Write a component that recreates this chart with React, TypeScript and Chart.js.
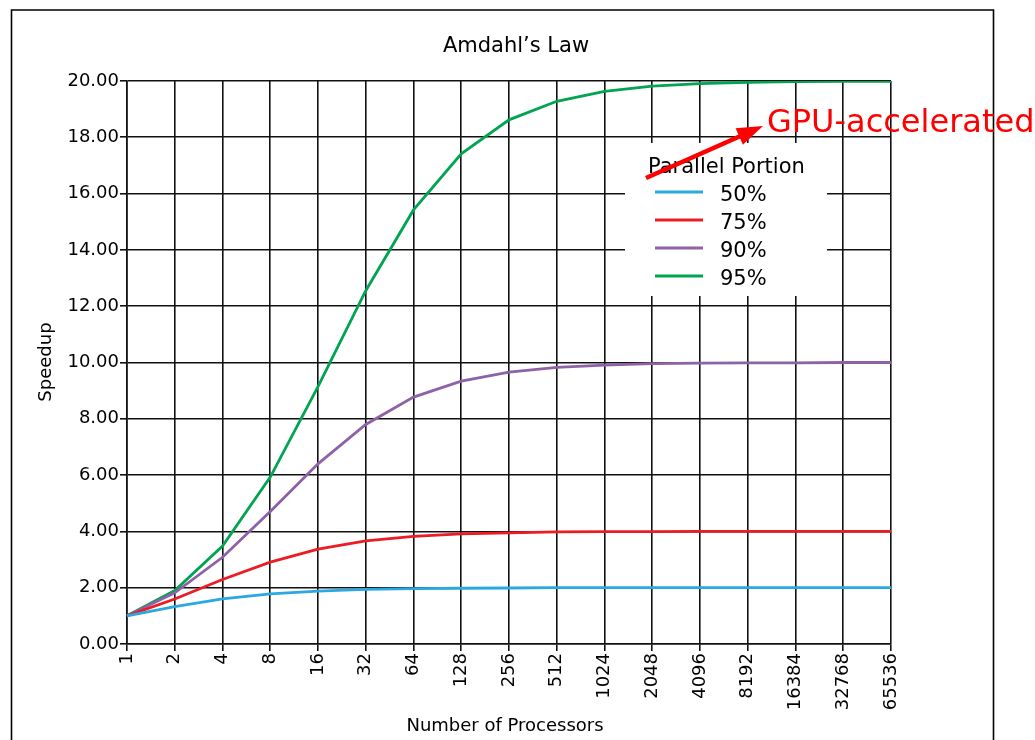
import React, { useEffect, useRef } from "react";
import { Chart, registerables } from "chart.js";

Chart.register(...registerables);

const processors = ["1", "2", "4", "8", "16", "32", "64", "128", "256", "512", "1024", "2048", "4096", "8192", "16384", "32768", "65536"];
const series50 = [1.0, 1.33, 1.6, 1.78, 1.88, 1.94, 1.97, 1.98, 1.99, 2.0, 2.0, 2.0, 2.0, 2.0, 2.0, 2.0, 2.0];
const series75 = [1.0, 1.6, 2.29, 2.91, 3.37, 3.66, 3.82, 3.91, 3.95, 3.98, 3.99, 3.99, 4.0, 4.0, 4.0, 4.0, 4.0];
const series90 = [1.0, 1.82, 3.08, 4.71, 6.4, 7.8, 8.77, 9.34, 9.66, 9.83, 9.91, 9.96, 9.98, 9.99, 9.99, 10.0, 10.0];
const series95 = [1.0, 1.9, 3.48, 5.93, 9.14, 12.55, 15.42, 17.41, 18.62, 19.28, 19.63, 19.82, 19.91, 19.95, 19.98, 19.99, 19.99];
const seriesLabels = ["50%", "75%", "90%", "95%"];
const seriesColors = ["#2aa9e0", "#ec1c24", "#8f62a8", "#00a451"];

const FONT = "'DejaVu Sans', sans-serif";

const decor = {
  id: "decor",
  afterDraw(chart: any) {
    const ctx = chart.ctx as CanvasRenderingContext2D;
    ctx.save();
    // frame
    ctx.strokeStyle = "#000";
    ctx.lineWidth = 1.6;
    ctx.beginPath();
    ctx.moveTo(11.5, 750);
    ctx.lineTo(11.5, 10);
    ctx.lineTo(993.5, 10);
    ctx.lineTo(993.5, 750);
    ctx.stroke();

    // title
    ctx.fillStyle = "#000";
    ctx.font = `21px ${FONT}`;
    ctx.textAlign = "center";
    ctx.textBaseline = "alphabetic";
    ctx.fillText("Amdahl\u2019s Law", 516, 52);

    // x axis title
    ctx.font = `18px ${FONT}`;
    ctx.fillText("Number of Processors", 505, 731);

    // y axis title
    ctx.save();
    ctx.translate(51, 362);
    ctx.rotate(-Math.PI / 2);
    ctx.fillText("Speedup", 0, 0);
    ctx.restore();

    // legend
    ctx.fillStyle = "#fff";
    ctx.fillRect(625, 143, 202, 153);
    ctx.fillStyle = "#000";
    ctx.textAlign = "left";
    ctx.font = `21px ${FONT}`;
    ctx.fillText("Parallel Portion", 648, 173);
    const ds = chart.data.datasets;
    ds.forEach((d: any, i: number) => {
      const y = 192 + i * 28;
      ctx.strokeStyle = d.borderColor;
      ctx.lineWidth = 2.8;
      ctx.beginPath();
      ctx.moveTo(655, y);
      ctx.lineTo(703, y);
      ctx.stroke();
      ctx.fillStyle = "#000";
      ctx.fillText(d.label, 720, y + 9);
    });

    // annotation arrow
    const x0 = 646, y0 = 178, x1 = 763, y1 = 126;
    const ang = Math.atan2(y1 - y0, x1 - x0);
    const headLen = 26, headW = 9;
    const bx = x1 - headLen * Math.cos(ang);
    const by = y1 - headLen * Math.sin(ang);
    ctx.strokeStyle = "#ff0000";
    ctx.fillStyle = "#ff0000";
    ctx.lineWidth = 4.5;
    ctx.beginPath();
    ctx.moveTo(x0, y0);
    ctx.lineTo(bx + 2 * Math.cos(ang), by + 2 * Math.sin(ang));
    ctx.stroke();
    ctx.beginPath();
    ctx.moveTo(x1, y1);
    ctx.lineTo(bx + headW * Math.sin(ang), by - headW * Math.cos(ang));
    ctx.lineTo(bx - headW * Math.sin(ang), by + headW * Math.cos(ang));
    ctx.closePath();
    ctx.fill();

    ctx.font = `32px ${FONT}`;
    ctx.fillText("GPU-accelerated", 767, 132);
    ctx.restore();
  },
};

export default function App() {
  const ref = useRef<HTMLCanvasElement | null>(null);
  useEffect(() => {
    if (!ref.current) return;
    const all = [series50, series75, series90, series95];
    const chart = new Chart(ref.current, {
      type: "line",
      data: {
        labels: processors,
        datasets: all.map((d, i) => ({
          label: seriesLabels[i],
          data: d,
          borderColor: seriesColors[i],
          backgroundColor: seriesColors[i],
          borderWidth: 2.8,
          pointRadius: 0,
          tension: 0,
          fill: false,
        })),
      },
      options: {
        responsive: false,
        animation: false,
        layout: { padding: { top: 81, right: 144, left: 0, bottom: 0 } },
        plugins: {
          legend: { display: false },
          title: { display: false },
          tooltip: { enabled: false },
        },
        scales: {
          x: {
            type: "category",
            offset: false,
            afterFit: (s: any) => {
              s.height = 96;
            },
            grid: { color: "#111", lineWidth: 1.6, tickLength: 7, drawTicks: true },
            border: { color: "#111", width: 1.6 },
            ticks: {
              minRotation: 90,
              maxRotation: 90,
              autoSkip: false,
              padding: 2,
              color: "#000",
              font: { family: FONT, size: 18 },
            },
          },
          y: {
            min: 0,
            max: 20,
            afterFit: (s: any) => {
              s.width = 127;
            },
            grid: { color: "#111", lineWidth: 1.6, tickLength: 7, drawTicks: true },
            border: { color: "#111", width: 1.6 },
            ticks: {
              stepSize: 2,
              padding: 1,
              color: "#000",
              font: { family: FONT, size: 18 },
              callback: (v: any) => Number(v).toFixed(2),
            },
          },
        },
      },
      plugins: [decor],
    });
    return () => chart.destroy();
  }, []);
  return (
    <div style={{ position: "absolute", left: 0, top: 0, width: 1035, height: 740, background: "#fff" }}>
      <canvas ref={ref} width={1035} height={740} style={{ display: "block" }} />
    </div>
  );
}
